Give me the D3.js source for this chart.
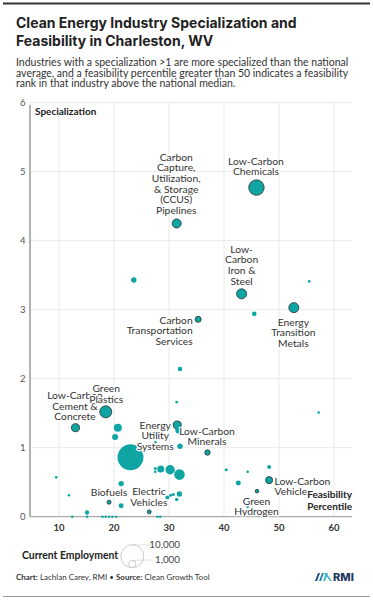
<!DOCTYPE html>
<meta charset="utf-8">
<style>
body { margin: 0; background: #fff; }
svg { display: block; font-family: Lato, "Open Sans", sans-serif; }
.grid line { stroke: #e9e9e9; stroke-width: 1px; }
.lbl { font-size: 10.3px; fill: #333; stroke: #fff; stroke-width: 2.5px; paint-order: stroke; stroke-linejoin: round; }
</style>
<body>
<script src="https://d3js.org/d3.v7.min.js"></script>
<script>
// industries: feasibility percentile, specialization, current employment
var industry = [
  "Low-Carbon Chemicals", "Carbon Capture, Utilization, & Storage (CCUS) Pipelines",
  "Low-Carbon Iron & Steel", "Energy Transition Metals", "Carbon Transportation Services",
  "Green Plastics", "Low-Carbon Cement & Concrete", "Energy Utility Systems",
  "Low-Carbon Minerals", "Biofuels", "Electric Vehicles", "Green Hydrogen", "Low-Carbon Vehicles",
  "", "", "", "", "", "", "", "", "", "", "", "", "", "", "", "", "", "", "", "", "", "", "",
  "", "", "", "", "", "", "", "", "", "", "", "", "", "", "", "", "", ""
];
var feasibility = [
  45.9, 31.4, 43.2, 52.7, 35.3, 18.5, 13.0, 31.5, 37.0, 19.1, 26.4, 46.0, 48.2,
  23.6, 55.5, 45.5, 32.0, 57.2, 31.4, 20.7, 20.2, 31.7, 32.0, 27.5, 23.0, 27.5, 27.5, 28.5,
  30.2, 31.9, 21.3, 9.5, 11.8, 21.3, 29.7, 30.3, 30.8, 31.4, 31.9, 15.1, 40.4, 44.3, 48.2,
  42.6, 44.3, 12.4, 15.1, 17.9, 18.5, 19.1, 19.7, 20.4, 27.9, 28.4
];
var specialization = [
  4.77, 4.25, 3.23, 3.03, 2.86, 1.52, 1.29, 1.33, 0.93, 0.21, 0.07, 0.37, 0.53,
  3.43, 3.41, 2.94, 2.14, 1.51, 1.66, 1.29, 1.155, 1.25, 1.02, 1.08, 0.86, 0.70, 0.65, 0.69,
  0.68, 0.61, 0.48, 0.57, 0.31, 0.16, 0.28, 0.31, 0.32, 0.25, 0.33, 0.06, 0.68, 0.65, 0.72,
  0.49, 0.14, 0, 0, 0, 0, 0, 0, 0, 0, 0
];
var employment = [
  4480, 1530, 1890, 1890, 680, 2720, 1210, 1210, 550, 300, 300, 245, 930,
  550, 130, 400, 400, 130, 130, 1210, 680, 680, 550, 170, 12780, 170, 130, 930,
  1670, 2120, 550, 130, 130, 470, 300, 170, 170, 220, 550, 370, 170, 130, 300,
  470, 110, 110, 110, 110, 110, 110, 110, 110, 110, 110
];
var xTicks = [10, 20, 30, 40, 50, 60];
var yTicks = [0, 1, 2, 3, 4, 5, 6];
var legendValues = [10000, 1000];

// label lines and placement (offsets in px from the dot); drawn in this order
var labelLayout = {
  "Low-Carbon Chemicals": { lines: ["Low-Carbon", "Chemicals"], anchor: "middle", dx: -0.5, dy: -26.6 },
  "Carbon Capture, Utilization, & Storage (CCUS) Pipelines": { lines: ["Carbon", "Capture,", "Utilization,", "& Storage", "(CCUS)", "Pipelines"], anchor: "middle", dx: -0.5, dy: -66.2 },
  "Low-Carbon Iron & Steel": { lines: ["Low-", "Carbon", "Iron &", "Steel"], anchor: "middle", dx: 0, dy: -44.6 },
  "Energy Transition Metals": { lines: ["Energy", "Transition", "Metals"], anchor: "middle", dx: -0.5, dy: 14.4 },
  "Carbon Transportation Services": { lines: ["Carbon", "Transportation", "Services"], anchor: "end", dx: -5.5, dy: 0.7 },
  "Low-Carbon Cement & Concrete": { lines: ["Low-Carbon", "Cement &", "Concrete"], anchor: "middle", dx: -0.5, dy: -32 },
  "Green Plastics": { lines: ["Green", "Plastics"], anchor: "middle", dx: 0.5, dy: -23.3 },
  "Energy Utility Systems": { lines: ["Energy", "Utility", "Systems"], anchor: "middle", dx: -22, dy: 0 },
  "Low-Carbon Minerals": { lines: ["Low-Carbon", "Minerals"], anchor: "middle", dx: -0.5, dy: -21.3 },
  "Biofuels": { lines: ["Biofuels"], anchor: "middle", dx: 0, dy: -9.6 },
  "Electric Vehicles": { lines: ["Electric", "Vehicles"], anchor: "middle", dx: -0.3, dy: -20.3 },
  "Green Hydrogen": { lines: ["Green", "Hydrogen"], anchor: "middle", dx: -0.5, dy: 10 },
  "Low-Carbon Vehicles": { lines: ["Low-Carbon", "Vehicles"], anchor: "start", dx: 5.5, dy: 1 }
};

var W = 373, H = 600;
var plot = { left: 30, right: 352, top: 102.7, bottom: 516.7 };

var svg = d3.select("body").append("svg")
    .attr("width", W)
    .attr("height", H);

// rules
svg.append("line").attr("x1", 3).attr("x2", 370).attr("y1", 3.5).attr("y2", 3.5)
    .attr("stroke", "#333").attr("stroke-width", 1.8);
svg.append("line").attr("x1", 3).attr("x2", 370).attr("y1", 596.5).attr("y2", 596.5)
    .attr("stroke", "#999").attr("stroke-width", 1.2);

// title + subtitle
var title = svg.append("text").attr("x", 16).attr("y", 28)
    .style("font-family", "Inter, Lato, sans-serif").style("font-weight", 700)
    .style("font-size", "14px").style("fill", "#222");
title.append("tspan").attr("x", 16).text("Clean Energy Industry Specialization and");
title.append("tspan").attr("x", 16).attr("dy", 18).text("Feasibility in Charleston, WV");

var sub = ["Industries with a specialization >1 are more specialized than the national",
           "average, and a feasibility percentile greater than 50 indicates a feasibility",
           "rank in that industry above the national median."];
svg.append("g").selectAll("text").data(sub).join("text")
    .attr("x", 16).attr("y", function(d, i) { return 66 + i * 10.6; })
    .style("font-size", "10.5px").style("fill", "#333")
    .text(function(d) { return d; });

// scales
var x = d3.scaleLinear().domain([4.73, 63.27]).range([plot.left, plot.right]);
var y = d3.scaleLinear().domain([0, 6]).range([plot.bottom, plot.top]);
var r = d3.scaleSqrt().domain([0, 10000]).range([0, 11.5]);

// grid
var grid = svg.append("g").attr("class", "grid");
grid.selectAll(".hy").data(yTicks.slice(1)).join("line")
    .attr("x1", plot.left).attr("x2", plot.right)
    .attr("y1", function(d) { return y(d); }).attr("y2", function(d) { return y(d); });
grid.selectAll(".vx").data(xTicks).join("line")
    .attr("y1", plot.top).attr("y2", plot.bottom)
    .attr("x1", function(d) { return x(d); }).attr("x2", function(d) { return x(d); });

// axes lines
svg.append("line").attr("x1", plot.left).attr("x2", plot.left)
    .attr("y1", plot.top + 2).attr("y2", plot.bottom)
    .attr("stroke", "#aaa").attr("stroke-width", 1.8);
svg.append("line").attr("x1", plot.left).attr("x2", plot.right)
    .attr("y1", plot.bottom).attr("y2", plot.bottom)
    .attr("stroke", "#aaa").attr("stroke-width", 1.2);

// y tick labels
svg.append("g").selectAll("text").data(yTicks).join("text")
    .attr("x", 25.5).attr("y", function(d) { return y(d); }).attr("dy", "0.35em")
    .attr("text-anchor", "end")
    .style("font-size", "9.5px").style("fill", "#555")
    .text(function(d) { return d; });

// x tick labels
svg.append("g").selectAll("text").data(xTicks).join("text")
    .attr("x", function(d) { return x(d); }).attr("y", plot.bottom + 14)
    .attr("text-anchor", "middle")
    .style("font-size", "9.5px").style("font-weight", 700).style("fill", "#333")
    .text(function(d) { return d; });

svg.append("text").attr("x", 35).attr("y", 114.5)
    .style("font-size", "10px").style("font-weight", 700).style("fill", "#222")
    .text("Specialization");

// points, biggest first
var pts = industry.map(function(d, i) {
  return { name: d, fx: feasibility[i], sp: specialization[i], emp: employment[i] };
});
pts.sort(function(a, b) { return b.emp - a.emp; });

svg.append("g").selectAll("circle").data(pts).join("circle")
    .attr("cx", function(d) { return x(d.fx); })
    .attr("cy", function(d) { return y(d.sp); })
    .attr("r", function(d) { return Math.max(1.2, r(d.emp)); })
    .attr("fill", "#0ea5a3")
    .attr("stroke", function(d) { return d.name ? "#2b3f40" : "none"; })
    .attr("stroke-width", 0.9);

// labels
var labels = svg.append("g");
Object.keys(labelLayout).forEach(function(name) {
  var i = industry.indexOf(name);
  var L = labelLayout[name];
  var t = labels.append("text").attr("class", "lbl").attr("text-anchor", L.anchor);
  L.lines.forEach(function(s, k) {
    t.append("tspan")
        .attr("x", x(feasibility[i]) + L.dx)
        .attr("y", y(specialization[i]) + L.dy + k * 10.6)
        .attr("dy", "0.35em")
        .text(s);
  });
});

// x axis title
var xt = svg.append("text").attr("class", "lbl").attr("text-anchor", "end")
    .style("font-weight", 700).style("fill", "#222").style("font-size", "10px");
xt.append("tspan").attr("x", plot.right).attr("y", 494).attr("dy", "0.35em").text("Feasibility");
xt.append("tspan").attr("x", plot.right).attr("y", 506.7).attr("dy", "0.35em").text("Percentile");

// size legend
var lg = svg.append("g");
var lcx = 132.3, lbase = 567.7;
lg.append("text").attr("x", 22).attr("y", 555).attr("dy", "0.35em")
    .style("font-size", "10.4px").style("font-weight", 700).style("fill", "#222")
    .text("Current Employment");
legendValues.forEach(function(v, i) {
  var rr = r(v);
  var ty = i === 0 ? 545 : 560;
  lg.append("circle").attr("cx", lcx).attr("cy", lbase - rr).attr("r", rr)
      .attr("fill", "none").attr("stroke", "#ccc").attr("stroke-width", 1);
  lg.append("line").attr("x1", lcx).attr("x2", 152)
      .attr("y1", lbase - 2 * rr).attr("y2", ty)
      .attr("stroke", "#bbb").attr("stroke-dasharray", "1,1.5");
  lg.append("text").attr("x", 180).attr("y", ty).attr("dy", "0.35em")
      .attr("text-anchor", "end")
      .style("font-size", "9.8px").style("fill", "#444")
      .text(d3.format(",")(v));
});

// footer
var ft = svg.append("text").attr("x", 16).attr("y", 579.5)
    .style("font-size", "8px").style("fill", "#333");
ft.append("tspan").style("font-weight", 700).text("Chart:");
ft.append("tspan").text(" Lachlan Carey, RMI \u2022 ");
ft.append("tspan").style("font-weight", 700).text("Source:");
ft.append("tspan").text(" Clean Growth Tool");

// RMI logo
var logo = svg.append("g").attr("transform", "translate(315,573)");
[[0, "#1d4f86"], [4, "#2a7fb0"], [8, "#3bb3c4"]].forEach(function(p) {
  logo.append("path")
      .attr("d", "M" + p[0] + ",8 L" + (p[0] + 3) + ",0 L" + (p[0] + 5) + ",0 L" + (p[0] + 2) + ",8 Z")
      .attr("fill", p[1]);
});
logo.append("path").attr("d", "M9,0 L11,0 L17,8 L15,8 Z").attr("fill", "#3bb3c4");
logo.append("text").attr("x", 18).attr("y", 8.2)
    .style("font-family", "Inter, Lato, sans-serif").style("font-weight", 800)
    .style("font-size", "11px").style("fill", "#1e3a5f").text("RMI");
</script>
</body>
